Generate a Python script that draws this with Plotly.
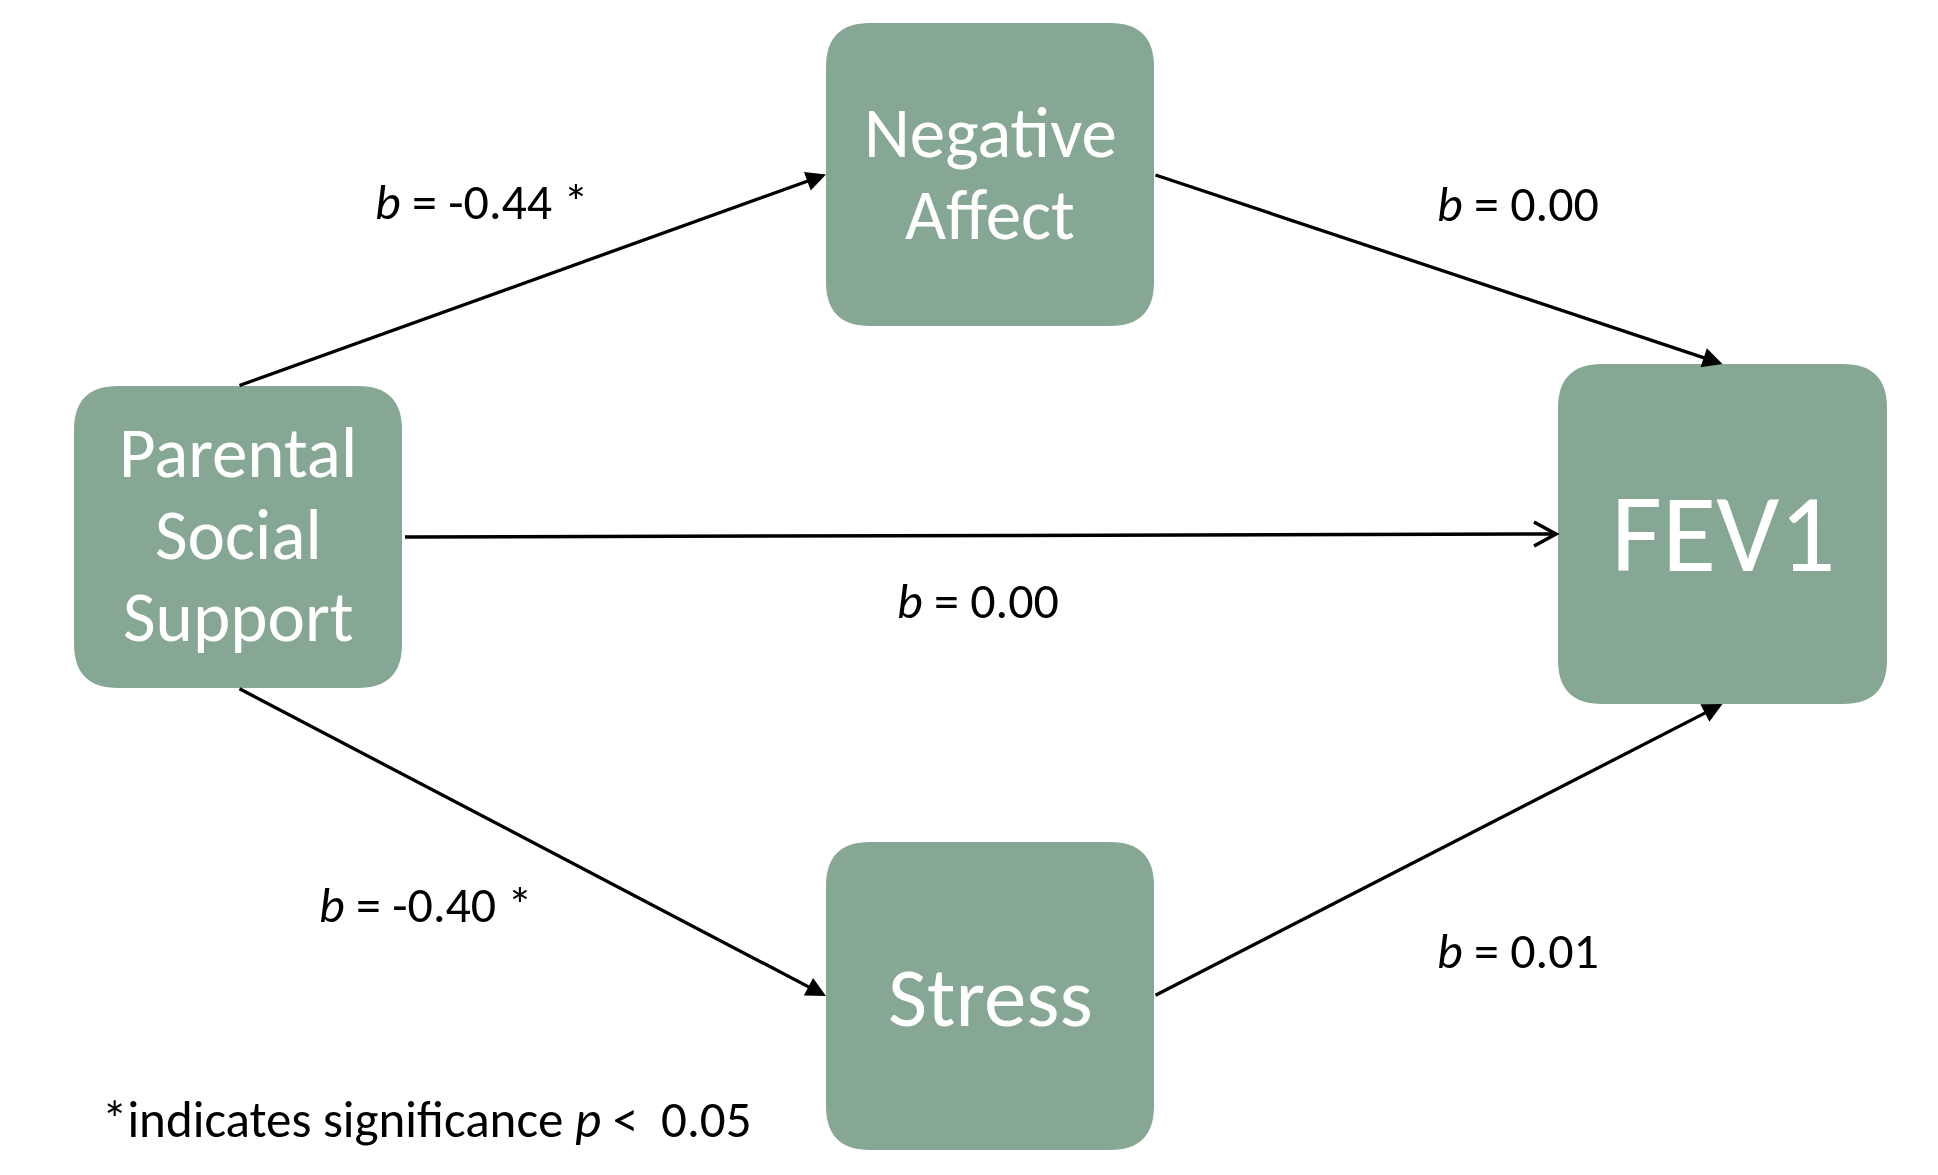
import math
import plotly.graph_objects as go

# ---------------- data ----------------
node_names = ["Parental Social Support", "Negative Affect", "Stress", "FEV1"]
node_lines = [["Parental", "Social", "Support"], ["Negative", "Affect"], ["Stress"], ["FEV1"]]
node_font = [71, 71, 85, 111]

edge_from = ["Parental Social Support", "Negative Affect", "Parental Social Support",
             "Parental Social Support", "Stress"]
edge_to = ["Negative Affect", "FEV1", "FEV1", "Stress", "FEV1"]
edge_b = ["-0.44", "0.00", "0.00", "-0.40", "0.01"]
edge_sig = [True, False, False, True, False]

footnote = "*indicates significance <i>p</i> <  0.05"

# ---------------- layout (pixels) ----------------
W, H = 1938, 1175
BOX = "#86A794"
# node boxes: x0, y0, x1, y1
node_box = {
    "Parental Social Support": (74, 386, 402, 688),
    "Negative Affect": (826, 23, 1154, 326),
    "Stress": (826, 842, 1154, 1150),
    "FEV1": (1558, 364, 1887, 704),
}
# vertical centre of each text line
node_line_y = {
    "Parental Social Support": [452, 534, 616],
    "Negative Affect": [132, 214],
    "Stress": [997],
    "FEV1": [533],
}
# anchor sides for edges (start side, end side) and head style
edge_sides = [("top", "left"), ("right", "top"), ("right", "left"), ("bottom", "left"), ("right", "bottom")]
edge_head = ["filled", "filled", "open", "filled", "filled"]
edge_label_pos = [(481, 201), (1518, 203), (978, 600), (425, 904), (1518, 950)]


def anchor(name, side):
    x0, y0, x1, y1 = node_box[name]
    cx, cy = (x0 + x1) / 2, (y0 + y1) / 2
    if side == "top":
        return cx, y0
    if side == "bottom":
        return cx, y1
    if side == "left":
        return x0, cy
    return x1, cy


def rrect(x0, y0, x1, y1, r):
    return (f"M {x0+r},{y0} H {x1-r} Q {x1},{y0} {x1},{y0+r} V {y1-r} "
            f"Q {x1},{y1} {x1-r},{y1} H {x0+r} Q {x0},{y1} {x0},{y1-r} "
            f"V {y0+r} Q {x0},{y0} {x0+r},{y0} Z")


FONT = "Carlito, Lato, sans-serif"
fig = go.Figure()
shapes = []
annotations = []

for name, lines, fs in zip(node_names, node_lines, node_font):
    x0, y0, x1, y1 = node_box[name]
    shapes.append(dict(type="path", path=rrect(x0, y0, x1, y1, 44), fillcolor=BOX,
                       line=dict(width=0), layer="below"))
    for line, ly in zip(lines, node_line_y[name]):
        annotations.append(dict(x=(x0 + x1) / 2, y=ly, xref="x", yref="y",
                                text=line, showarrow=False,
                                font=dict(family=FONT, size=fs, color="white"),
                                xanchor="center", yanchor="middle"))

for (fr, to), (s1, s2), head, b, sig, (lx, ly) in zip(zip(edge_from, edge_to), edge_sides,
                                                       edge_head, edge_b, edge_sig, edge_label_pos):
    ax, ay = anchor(fr, s1)
    hx, hy = anchor(to, s2)
    if head == "open":
        # line with open "V" head
        hx -= 2
        ang = math.atan2(hy - ay, hx - ax)
        L, Wd = 22, 12
        bx, by = hx - L * math.cos(ang), hy - L * math.sin(ang)
        px, py = -math.sin(ang) * Wd, math.cos(ang) * Wd
        shapes.append(dict(type="line", x0=ax + 3, y0=ay, x1=hx, y1=hy,
                           line=dict(color="black", width=3.5)))
        shapes.append(dict(type="path",
                           path=f"M {bx+px},{by+py} L {hx},{hy} L {bx-px},{by-py}",
                           fillcolor="rgba(0,0,0,0)",
                           line=dict(color="black", width=3.5)))
    else:
        annotations.append(dict(x=hx, y=hy, ax=ax, ay=ay, xref="x", yref="y",
                                axref="x", ayref="y", text="", showarrow=True,
                                arrowhead=2, arrowsize=1.2, arrowwidth=3.3,
                                arrowcolor="black", standoff=0, startstandoff=0))
    annotations.append(dict(x=lx, y=ly, xref="x", yref="y",
                            text=f"<i>b</i> = {b}" + (" *" if sig else ""),
                            showarrow=False, font=dict(family=FONT, size=50, color="black"),
                            xanchor="center", yanchor="middle"))

annotations.append(dict(x=100, y=1119, xref="x", yref="y", text=footnote, showarrow=False,
                        font=dict(family=FONT, size=51, color="black"),
                        xanchor="left", yanchor="middle"))

fig.update_layout(
    width=W, height=H, margin=dict(l=0, r=0, t=0, b=0),
    paper_bgcolor="white", plot_bgcolor="white",
    xaxis=dict(range=[0, W], visible=False, fixedrange=True),
    yaxis=dict(range=[H, 0], visible=False, fixedrange=True),
    shapes=shapes, annotations=annotations, showlegend=False,
)
fig.write_html("out.html", config={"displayModeBar": False},
               post_script="document.body.style.margin='0';document.body.style.overflow='hidden';")
